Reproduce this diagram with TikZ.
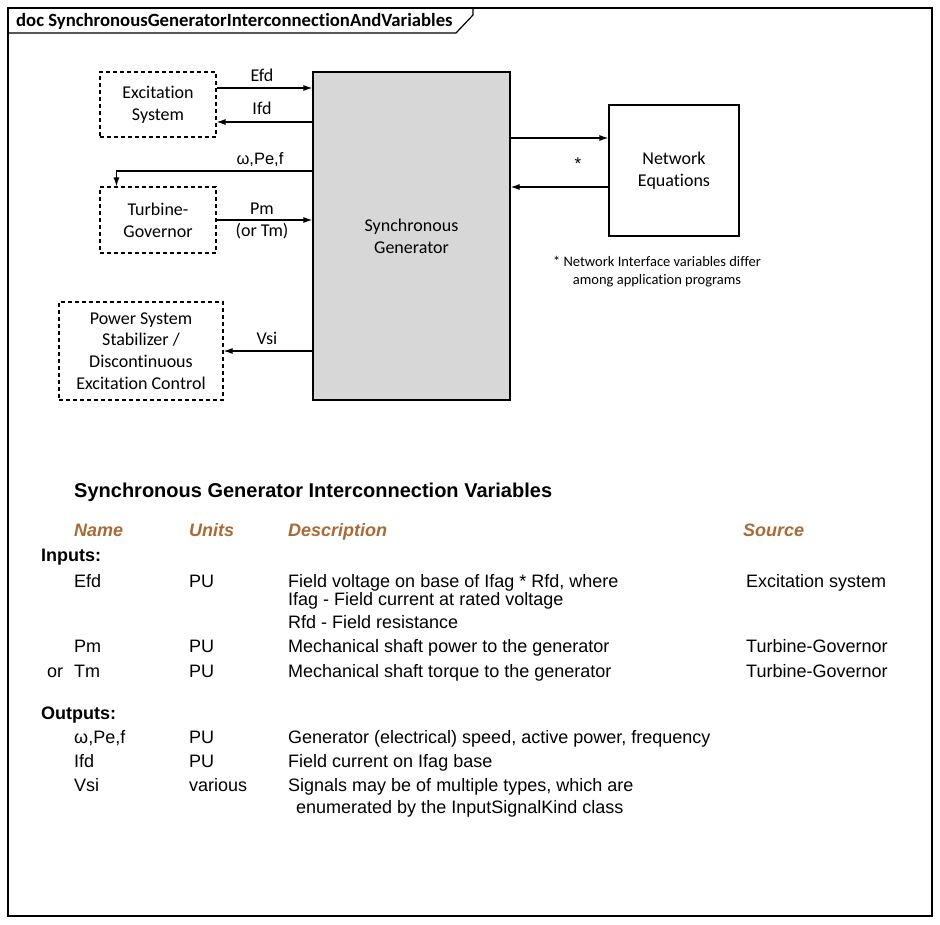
\documentclass[tikz,border=0pt]{standalone}
\usepackage{fontspec}
\setmainfont{Liberation Sans}
\newfontfamily\carl[Ligatures={NoCommon,NoRare,NoContextual}]{Carlito}
\usetikzlibrary{arrows.meta}
\definecolor{hdr}{RGB}{170,106,56}
\definecolor{gengray}{RGB}{215,215,215}
\begin{document}
\begin{tikzpicture}[x=1pt,y=-1pt,
  dbox/.style={draw, line width=1.1pt, dash pattern=on 4pt off 3pt, align=center, inner sep=0pt, font=\carl\fontsize{18}{21.7}\selectfont},
  sbox/.style={draw, line width=1.2pt, align=center, inner sep=0pt, font=\carl\fontsize{18}{21.7}\selectfont},
  arr/.style={line width=1.2pt, -{Latex[length=9pt,width=6pt]}},
  lbl/.style={anchor=base, inner sep=0pt, font=\carl\fontsize{18}{21}\selectfont},
  note/.style={anchor=base, inner sep=0pt, font=\carl\fontsize{14.5}{17}\selectfont},
  tb/.style={anchor=base west, inner sep=0pt, font=\fontsize{18}{21}\selectfont},
  tbb/.style={anchor=base west, inner sep=0pt, font=\bfseries\fontsize{18}{21}\selectfont},
  th/.style={anchor=base west, inner sep=0pt, text=hdr, font=\bfseries\itshape\fontsize{18}{21}\selectfont}]
\useasboundingbox (0,0) rectangle (940,924);
% frame
\draw[line width=1.2pt] (8,8) rectangle (932,916);
\draw[line width=1.2pt] (8,33) -- (456,33) -- (473,15) -- (473,8);
\node[anchor=base west, inner sep=0pt, font=\carl\bfseries\fontsize{18.7}{21}\selectfont] (title) at (16,26) {doc SynchronousGeneratorInterconnectionAndVariables};
% boxes
\node[dbox, minimum width=116pt, minimum height=65pt] (exc) at (158,104.5) {Excitation\\System};
\node[dbox, minimum width=116pt, minimum height=66pt] (turb) at (158,220) {Turbine-\\Governor};
\node[dbox, minimum width=164pt, minimum height=98pt] (pss) at (141,351) {Power System\\Stabilizer /\\Discontinuous\\Excitation Control};
\node[sbox, fill=gengray, minimum width=197pt, minimum height=328pt] (gen) at (411.5,236) {Synchronous\\Generator};
\node[sbox, minimum width=130pt, minimum height=131pt] (net) at (674,170.5) {Network\\Equations};
% connectors
\coordinate (e1) at ([yshift=16.5pt]exc.east);
\draw[arr] (e1) -- (e1 -| gen.west);
\coordinate (i1) at ([yshift=-17.5pt]exc.east);
\draw[arr] (i1 -| gen.west) -- (i1);
\coordinate (w1) at ([yshift=65pt]gen.west);
\coordinate (w2) at ([xshift=17pt]turb.north west);
\draw[arr] (w1) -| (w2);
\draw[arr] (turb.east) -- (turb.east -| gen.west);
\draw[arr] (pss.east -| gen.west) -- (pss.east);
\coordinate (n1) at ([yshift=32.5pt]net.west);
\draw[arr] (n1 -| gen.east) -- (n1);
\coordinate (n2) at ([yshift=-16.5pt]net.west);
\draw[arr] (n2) -- (n2 -| gen.east);
% labels
\node[lbl] (lefd) at (262,81) {Efd};
\node[lbl] (lifd) at (262,114) {Ifd};
\node[anchor=base, inner sep=0pt, font=\fontsize{16.5}{20}\selectfont] (lw) at (260,164) {ω,Pe,f};
\node[lbl] (lpm) at (262,214) {Pm};
\node[lbl] (ltm) at (262,236) {(or Tm)};
\node[lbl] (lvsi) at (267,344) {Vsi};
\node[anchor=base, inner sep=0pt, font=\fontsize{17}{20}\selectfont] (last) at (578,169) {*};
\node[note] (n1t) at (657,266) {* Network Interface variables differ};
\node[note] (n2t) at (657,284) {among application programs};
% table
\node[anchor=base west, inner sep=0pt, font=\bfseries\fontsize{20}{24}\selectfont] (ttl) at (74,497) {Synchronous Generator Interconnection Variables};
\node[th] (hname) at (74,536) {Name};
\node[th] (hunits) at (189,536) {Units};
\node[th] (hdesc) at (288,536) {Description};
\node[th] (hsrc) at (743,536) {Source};
\node[tbb] (inp) at (41,561) {Inputs:};
\node[tb] (r1a) at (74,587) {Efd};
\node[tb] (r1b) at (189,587) {PU};
\node[tb] (r1c) at (288,587) {Field voltage on base of Ifag * Rfd, where};
\node[tb] (r1d) at (746,587) {Excitation system};
\node[tb] (r1e) at (288,605.5) {Ifag - Field current at rated voltage};
\node[tb] (r1f) at (288,628) {Rfd - Field resistance};
\node[tb] (r2a) at (74,652.5) {Pm};
\node[tb] (r2b) at (189,652.5) {PU};
\node[tb] (r2c) at (288,652.5) {Mechanical shaft power to the generator};
\node[tb] (r2d) at (746,652.5) {Turbine-Governor};
\node[tb] (r3o) at (47,677) {or};
\node[tb] (r3a) at (74,677) {Tm};
\node[tb] (r3b) at (189,677) {PU};
\node[tb] (r3c) at (288,677) {Mechanical shaft torque to the generator};
\node[tb] (r3d) at (746,677) {Turbine-Governor};
\node[tbb] (outp) at (41,719) {Outputs:};
\node[tb] (r4a) at (74,743) {ω,Pe,f};
\node[tb] (r4b) at (189,743) {PU};
\node[tb] (r4c) at (288,743) {Generator (electrical) speed, active power, frequency};
\node[tb] (r5a) at (74,767) {Ifd};
\node[tb] (r5b) at (189,767) {PU};
\node[tb] (r5c) at (288,767) {Field current on Ifag base};
\node[tb] (r6a) at (74,791) {Vsi};
\node[tb] (r6b) at (189,791) {various};
\node[tb] (r6c) at (288,791) {Signals may be of multiple types, which are};
\node[tb] (r6d) at (296,813) {enumerated by the InputSignalKind class};
\end{tikzpicture}
\end{document}
